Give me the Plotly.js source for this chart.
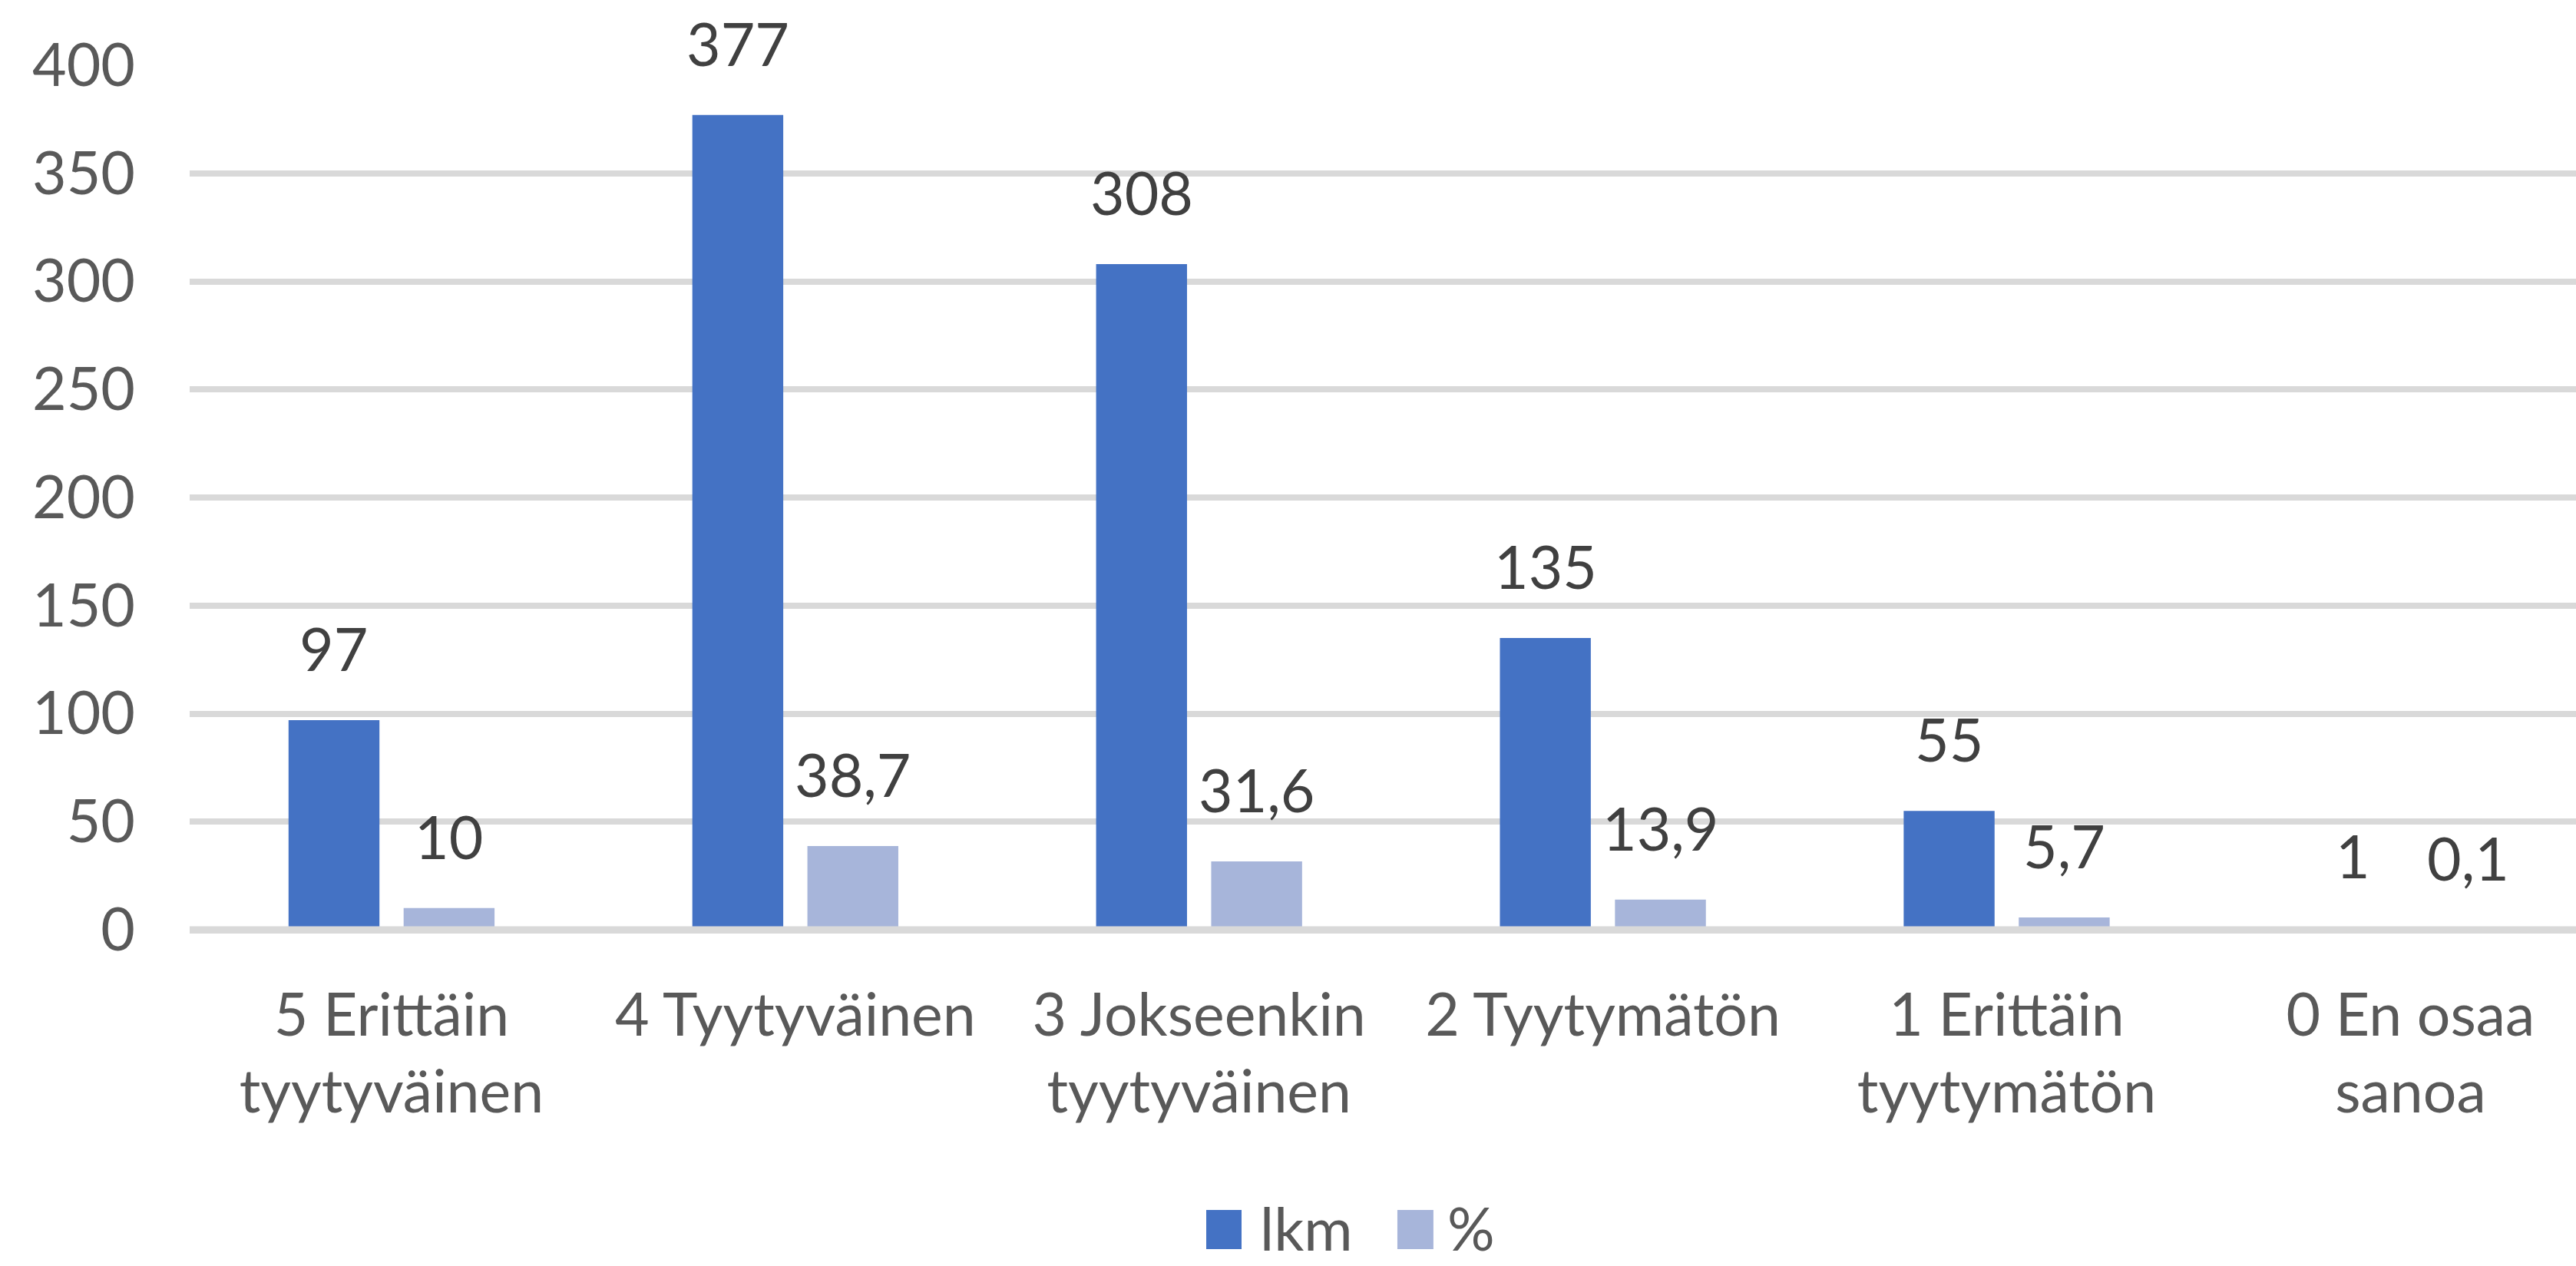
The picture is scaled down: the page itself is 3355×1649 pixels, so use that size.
<!DOCTYPE html>
<html><head><meta charset="utf-8">
<script src="https://cdn.plot.ly/plotly-3.0.1.min.js"></script>
<style>html,body{margin:0;padding:0;background:#fff;overflow:hidden}</style>
</head><body><div id="chart" style="width:3355px;height:1649px"></div>
<script>
const categories = ["5 Erittäin<br>tyytyväinen", "4 Tyytyväinen", "3 Jokseenkin<br>tyytyväinen", "2 Tyytymätön", "1 Erittäin<br>tyytymätön", "0 En osaa<br>sanoa"];
const seriesNames = ["lkm", "%"];
const lkmValues = [97, 377, 308, 135, 55, 1];
const pctValues = [10, 38.7, 31.6, 13.9, 5.7, 0.1];
const yTickValues = [0, 50, 100, 150, 200, 250, 300, 350, 400];
const yTickLabels = ["0", "50", "100", "150", "200", "250", "300", "350", "400"];

const seriesValues = [lkmValues, pctValues];
const colors = ["#4472C4", "#A7B5DA"];
const fmt = v => String(v).replace('.', ',');
const FONT = "Lato, 'Open Sans', sans-serif";
const FS = 77;

const traces = seriesValues.map((vals, i) => ({
  type: 'bar',
  name: seriesNames[i],
  x: categories,
  y: vals,
  marker: {color: colors[i]},
  hoverinfo: 'skip',
  showlegend: false
}));

const annotations = [];
seriesValues.forEach((vals, i) => {
  vals.forEach((v, j) => {
    annotations.push({
      x: categories[j], y: v, xref: 'x', yref: 'y',
      text: fmt(v), showarrow: false,
      xshift: i === 0 ? -75 : 75, yshift: 46,
      yanchor: 'bottom', xanchor: 'center',
      font: {family: FONT, size: FS, color: '#404040'}
    });
  });
});

// Legend (paper-referenced swatches so the swatch size matches the original)
const legendSwatchX = [[0.4260, 0.4408], [0.5061, 0.5212]];
const legendTextX = [0.4480, 0.5265];
const legendSwatchY = [-0.3694, -0.3242];
const legendTextY = -0.3870;
const shapes = [];
seriesNames.forEach((name, i) => {
  shapes.push({type: 'rect', xref: 'paper', yref: 'paper',
    x0: legendSwatchX[i][0], x1: legendSwatchX[i][1], y0: legendSwatchY[0], y1: legendSwatchY[1],
    fillcolor: colors[i], line: {width: 0}, layer: 'above'});
  annotations.push({xref: 'paper', yref: 'paper', x: legendTextX[i], y: legendTextY,
    xanchor: 'left', yanchor: 'bottom', text: name, showarrow: false,
    font: {family: FONT, size: FS, color: '#595959'}});
});
// axis base line drawn above the bars (hides the 1-unit bar as in the original)
shapes.push({type: 'line', xref: 'paper', yref: 'y', x0: 0, x1: 1, y0: 0, y1: 0,
  line: {color: '#D9D9D9', width: 9}, layer: 'above'});

const layout = {
  width: 3355, height: 1649,
  margin: {l: 247, r: 0, t: 85, b: 438, autoexpand: false},
  paper_bgcolor: '#fff', plot_bgcolor: '#fff',
  font: {family: FONT, size: FS, color: '#595959'},
  barmode: 'group',
  bargap: 0.43,
  bargroupgap: 0.21,
  showlegend: false,
  xaxis: {type: 'category', range: [-0.5, 5.41], showgrid: false, showline: false, zeroline: false,
          ticks: '', ticklabelstandoff: 60, tickfont: {family: FONT, size: FS, color: '#595959'}, fixedrange: true, automargin: false},
  yaxis: {range: [0, 400], tickvals: yTickValues, ticktext: yTickLabels, showgrid: true,
          gridcolor: '#D9D9D9', gridwidth: 8, zeroline: true, zerolinecolor: '#D9D9D9', zerolinewidth: 9,
          showline: false, ticks: '', ticklabelstandoff: 70, automargin: false,
          tickfont: {family: FONT, size: FS, color: '#595959'}, fixedrange: true},
  annotations: annotations,
  shapes: shapes
};

Plotly.newPlot('chart', traces, layout, {displayModeBar: false, staticPlot: true});
</script></body></html>
